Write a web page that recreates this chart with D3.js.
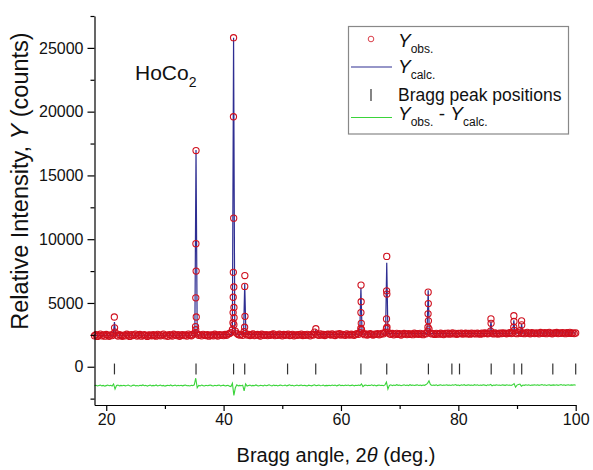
<!DOCTYPE html>
<html><head><meta charset="utf-8">
<script src="https://cdn.jsdelivr.net/npm/d3@7"></script>
<style>
body{margin:0;background:#fff;}
svg{font-family:"Liberation Sans",Arial,sans-serif;}
text{white-space:pre;}
</style></head>
<body><svg id="c" width="593" height="470"></svg>
<script>
// ---- data ----
const xTicks = [20, 40, 60, 80, 100];
const xMinor = [30, 50, 70, 90];
const yTicks = [0, 5000, 10000, 15000, 20000, 25000];
const yMinor = [-2500, 2500, 7500, 12500, 17500, 22500, 27500];

// observed background band, 2θ = 18 ... 100, step 0.25
const gridStart = 18, gridStep = 0.25;
const obsBand = [
2430,2510,2380,2470,2560,2420,2490,2400,2530,2460,2390,2500,2440,2580,2720,2480,2410,2520,2450,2390,
2480,2420,2550,2460,2380,2510,2440,2490,2560,2410,2470,2530,2400,2460,2520,2440,2380,2500,2470,2430,
2510,2450,2400,2540,2470,2420,2500,2560,2430,2480,2390,2520,2460,2410,2550,2480,2440,2510,2390,2470,
2520,2440,2490,2410,2560,2470,2430,2510,2620,2900,2580,2460,2500,2420,2540,2480,2450,2510,2400,2470,
2490,2430,2550,2470,2410,2520,2460,2500,2440,2530,2470,2560,2600,2680,2900,3300,2800,2620,2520,2480,
2540,2460,2750,2600,2480,2530,2450,2510,2570,2440,2490,2530,2470,2410,2550,2490,2460,2520,2440,2500,
2470,2530,2580,2440,2500,2460,2550,2490,2420,2530,2470,2510,2560,2450,2490,2540,2430,2500,2470,2520,
2490,2560,2450,2510,2470,2540,2480,2420,2530,2480,2720,2550,2500,2460,2570,2490,2530,2450,2510,2560,
2530,2480,2570,2500,2450,2560,2510,2590,2480,2540,2500,2460,2580,2520,2490,2560,2510,2470,2550,2600,
2540,2680,2900,2620,2510,2570,2490,2540,2600,2520,2480,2560,2530,2590,2500,2550,2620,2580,2700,3000,
2720,2580,2540,2610,2500,2560,2620,2530,2590,2480,2550,2610,2570,2520,2600,2540,2580,2510,2630,2560,
2590,2540,2620,2560,2510,2600,2580,2750,2950,2640,2570,2600,2530,2620,2580,2550,2630,2570,2520,2610,
2580,2630,2550,2600,2660,2570,2620,2540,2610,2590,2640,2560,2600,2630,2570,2610,2550,2640,2590,2620,
2570,2640,2600,2550,2630,2590,2660,2610,2580,2640,2800,2620,2570,2650,2600,2560,2630,2590,2650,2610,
2640,2580,2620,2670,2600,2650,2850,2630,2590,2680,2820,2610,2660,2590,2640,2700,2620,2580,2670,2630,
2600,2660,2620,2580,2690,2640,2610,2670,2590,2650,2700,2620,2580,2660,2630,2690,2600,2650,2620,2680,
2640,2590,2670,2620,2700,2610,2660,2600,2650
];

// observed points on the Bragg peaks
const peakObsX = [21.38,21.42, 35.30,35.28,35.32,35.26,35.34,35.22,
  41.70,41.68,41.72,41.66,41.74,41.64,41.76,41.62,41.78,41.60,
  43.62,43.60,43.64,43.58, 55.72,
  63.42,63.44,63.40,63.46,63.38, 67.80,67.78,67.82,67.76,67.84,
  74.86,74.88,74.84,74.90,74.82, 85.56,85.58, 89.46,89.48,89.44, 90.78,90.80];
const peakObsY = [3900,3050, 16950,9650,7500,5400,3900,3150,
  25800,19600,11650,7400,6250,5450,4650,4250,3850,3450,
  7150,6300,3950,3100, 2980,
  6400,5100,4250,3400,3000, 8650,5950,5700,3750,3100,
  5850,4950,4150,3600,3100, 3750,3400, 4000,3550,3100, 3600,3280];

// calculated profile
const calcX = [18, 21.2,21.4,21.6, 35.1,35.3,35.5, 41.3,41.5,41.7,41.9,42.1, 43.4,43.6,43.8,
  55.5,55.7,55.9, 63.2,63.4,63.6, 67.6,67.8,68.0, 74.66,74.86,75.06,
  85.36,85.56,85.76, 89.26,89.46,89.66, 90.58,90.78,90.98, 100];
const calcY = [2460, 2470,3500,2470, 2480,17000,2490, 2540,2900,25800,2900,2560, 2540,6500,2540,
  2520,2850,2520, 2560,6200,2560, 2580,8150,2590, 2590,6000,2590,
  2610,3550,2610, 2630,3650,2630, 2630,3350,2630, 2650];

// Bragg peak positions (2θ)
const braggPos = [21.4, 35.3, 41.7, 43.6, 50.9, 55.7, 63.4, 67.8, 74.9, 78.9, 80.2, 85.6, 89.5, 90.8, 96.1, 100.0];

// difference Yobs - Ycalc (offset), same grid as obsBand
const diffY = [
-1480,-1450,-1510,-1470,-1440,-1500,-1460,-1520,-1480,-1440,-1490,-1460,-1510,-1350,-1750,-1470,-1440,-1500,-1460,-1490,
-1450,-1500,-1470,-1430,-1490,-1520,-1460,-1440,-1500,-1470,-1510,-1450,-1480,-1430,-1490,-1460,-1520,-1470,-1440,-1500,
-1460,-1490,-1430,-1510,-1470,-1440,-1500,-1460,-1520,-1480,-1450,-1490,-1430,-1500,-1470,-1440,-1510,-1460,-1490,-1450,
-1500,-1460,-1430,-1490,-1470,-1510,-1450,-1480,-1420,-900,-1650,-1460,-1500,-1440,-1480,-1510,-1450,-1490,-1460,-1430,
-1480,-1510,-1450,-1490,-1460,-1430,-1500,-1470,-1440,-1510,-1480,-1450,-1520,-1550,-1300,-2250,-1650,-1420,-1500,-1460,
-1490,-1450,-1900,-1350,-1520,-1470,-1440,-1500,-1460,-1490,-1430,-1480,-1510,-1450,-1470,-1500,-1440,-1490,-1460,-1420,
-1470,-1500,-1440,-1480,-1450,-1510,-1460,-1430,-1490,-1470,-1440,-1500,-1460,-1420,-1480,-1450,-1510,-1470,-1440,-1490,
-1460,-1430,-1490,-1450,-1480,-1510,-1440,-1470,-1500,-1450,-1420,-1480,-1460,-1430,-1490,-1470,-1440,-1500,-1460,-1480,
-1450,-1490,-1430,-1470,-1440,-1500,-1460,-1420,-1480,-1450,-1490,-1440,-1470,-1430,-1490,-1460,-1440,-1500,-1450,-1470,
-1440,-1480,-1350,-1560,-1460,-1430,-1490,-1450,-1470,-1420,-1480,-1440,-1500,-1460,-1430,-1470,-1450,-1490,-1420,-1200,
-1750,-1460,-1420,-1480,-1440,-1470,-1410,-1460,-1430,-1490,-1450,-1420,-1470,-1440,-1480,-1410,-1460,-1430,-1470,-1440,
-1420,-1470,-1440,-1480,-1430,-1460,-1400,-1300,-1100,-1400,-1470,-1430,-1460,-1420,-1480,-1440,-1410,-1470,-1430,-1450,
-1410,-1460,-1430,-1470,-1420,-1450,-1400,-1460,-1430,-1480,-1420,-1450,-1410,-1470,-1440,-1420,-1460,-1430,-1470,-1410,
-1450,-1420,-1470,-1430,-1460,-1410,-1440,-1480,-1420,-1450,-1380,-1490,-1430,-1460,-1410,-1450,-1430,-1470,-1420,-1440,
-1460,-1410,-1450,-1430,-1470,-1420,-1320,-1600,-1440,-1400,-1360,-1520,-1430,-1460,-1410,-1450,-1420,-1470,-1430,-1440,
-1410,-1450,-1420,-1460,-1430,-1400,-1450,-1420,-1470,-1430,-1410,-1460,-1440,-1420,-1450,-1410,-1460,-1430,-1400,-1450,
-1420,-1460,-1430,-1410,-1450,-1420,-1440,-1410,-1450
];

// ---- drawing ----
const svg = d3.select("#c");
const x = d3.scaleLinear().domain([18, 100]).range([94.5, 575.7]);
const y = d3.scaleLinear().domain([-3000, 27500]).range([405, 16]);

const cObs = "#d0101e", cCalc = "#2e2e92", cDiff = "#3ad43a";

const gridX = i => gridStart + i * gridStep;

// difference curve
svg.append("path")
  .attr("d", d3.line().x((d,i)=>x(gridX(i))).y(d=>y(d))(diffY))
  .attr("fill","none").attr("stroke",cDiff).attr("stroke-width",1.1);

// Bragg ticks
svg.append("g").selectAll("line").data(braggPos).join("line")
  .attr("x1",d=>x(d)).attr("x2",d=>x(d))
  .attr("y1",y(250)).attr("y2",y(-600))
  .attr("stroke","#333").attr("stroke-width",1.2);

// calc line
svg.append("path")
  .attr("d", d3.line().x(d=>x(d[0])).y(d=>y(d[1]))(calcX.map((v,i)=>[v,calcY[i]])))
  .attr("fill","none").attr("stroke",cCalc).attr("stroke-width",1.2);

// observed circles
const obsPts = obsBand.map((v,i)=>[gridX(i), v]).concat(peakObsX.map((v,i)=>[v, peakObsY[i]]));
svg.append("g").selectAll("circle").data(obsPts).join("circle")
  .attr("cx",d=>x(d[0])).attr("cy",d=>y(d[1])).attr("r",3.1)
  .attr("fill","none").attr("stroke",cObs).attr("stroke-width",1.1);

// axes
svg.append("g").attr("transform","translate(0,405)")
  .call(d3.axisBottom(x).tickValues(xTicks).tickSize(6).tickSizeOuter(0).tickPadding(3).tickFormat(d3.format("d")));
svg.append("g").attr("transform","translate(0,405)")
  .call(d3.axisBottom(x).tickValues(xMinor).tickSize(4).tickSizeOuter(0).tickFormat(""))
  .select(".domain").remove();
svg.append("g").attr("transform","translate(94.5,0)")
  .call(d3.axisLeft(y).tickValues(yTicks).tickSize(7).tickSizeOuter(0).tickPadding(4).tickFormat(d3.format("d")));
svg.append("g").attr("transform","translate(94.5,0)")
  .call(d3.axisLeft(y).tickValues(yMinor).tickSize(4).tickSizeOuter(0).tickFormat(""))
  .select(".domain").remove();
svg.selectAll(".domain, .tick line").attr("stroke","#000").attr("stroke-width",1.2);
svg.selectAll(".tick text").attr("font-size",16).attr("font-family","Liberation Sans, Arial, sans-serif").attr("fill","#111");

// axis titles
const xt = svg.append("text").attr("x",336).attr("y",462).attr("text-anchor","middle").attr("font-size",20).attr("fill","#111");
xt.append("tspan").text("Bragg angle, 2");
xt.append("tspan").attr("font-style","italic").text("θ");
xt.append("tspan").text(" (deg.)");

const yt = svg.append("text").attr("transform","translate(28,181) rotate(-90)").attr("text-anchor","middle").attr("font-size",23.5).attr("fill","#111");
yt.append("tspan").text("Relative Intensity, ");
yt.append("tspan").attr("font-style","italic").text("Y");
yt.append("tspan").text(" (counts)");

// sample label
const tl = svg.append("text").attr("x",135).attr("y",80).attr("font-size",21).attr("fill","#111");
tl.append("tspan").text("HoCo");
tl.append("tspan").attr("font-size",14).attr("dy",7).text("2");

// legend
const lg = svg.append("g");
lg.append("rect").attr("x",348.5).attr("y",26.5).attr("width",220).attr("height",107.5)
  .attr("fill","#fff").attr("stroke","#888").attr("stroke-width",1.2);
lg.append("circle").attr("cx",371).attr("cy",39).attr("r",2.8).attr("fill","none").attr("stroke",cObs).attr("stroke-width",0.8);
lg.append("line").attr("x1",351).attr("x2",392).attr("y1",67).attr("y2",67).attr("stroke",cCalc).attr("stroke-width",1.2);
lg.append("line").attr("x1",371).attr("x2",371).attr("y1",89).attr("y2",101).attr("stroke","#333").attr("stroke-width",1.2);
lg.append("line").attr("x1",351).attr("x2",392).attr("y1",117.5).attr("y2",117.5).attr("stroke",cDiff).attr("stroke-width",1.2);

function yLabel(g, yb, sub){
  const t = g.append("text").attr("x",398).attr("y",yb).attr("font-size",19).attr("fill","#111");
  t.append("tspan").attr("font-style","italic").text("Y");
  t.append("tspan").attr("font-size",12).attr("dy",6).text(sub);
  return t;
}
yLabel(lg, 47, "obs.");
yLabel(lg, 73, "calc.");
lg.append("text").attr("x",398).attr("y",101).attr("font-size",17.5).attr("fill","#111").text("Bragg peak positions");
const t4 = yLabel(lg, 120, "obs.");
t4.append("tspan").attr("dy",-6).text(" - ");
t4.append("tspan").attr("font-style","italic").text("Y");
t4.append("tspan").attr("font-size",12).attr("dy",6).text("calc.");
</script>
</body></html>
